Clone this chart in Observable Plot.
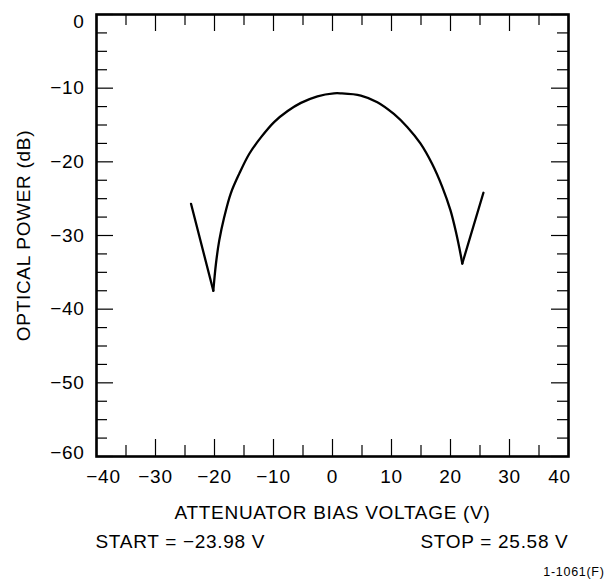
<!DOCTYPE html>
<html>
<head>
<meta charset="utf-8">
<script src="https://cdn.jsdelivr.net/npm/d3@7"></script>
<script src="https://cdn.jsdelivr.net/npm/@observablehq/plot@0.6"></script>
<style>
  html, body { margin: 0; padding: 0; background: #fff; }
</style>
</head>
<body>
<div id="chart"></div>
<script>
// Data
const voltage = [-23.98, -20.2, -19.75, -19.2, -18.35, -17.25, -15.8, -14.1, -12.1, -9.9, -7.6, -5.35, -2.55, 0.25, 1.4, 4.8, 7.6, 10.4, 12.7, 14.9, 16.9, 18.6, 20.0, 21.0, 21.7, 22.0, 25.58];
const power   = [-25.7, -37.5, -33.8, -30.7, -27.5, -24.3, -21.6, -18.9, -16.65, -14.6, -13.1, -12.0, -11.1, -10.7, -10.7, -11.0, -11.9, -13.5, -15.3, -17.5, -20.3, -23.4, -26.6, -29.8, -32.5, -33.8, -24.2];

const xMajorTicks = [-40, -30, -20, -10, 0, 10, 20, 30, 40];
const xMinorTicks = [-35, -25, -15, -5, 5, 15, 25, 35];
const yMajorTicks = [0, -10, -20, -30, -40, -50, -60];
const yMinorTicks = [-2.5, -5, -7.5, -12.5, -15, -17.5, -22.5, -25, -27.5, -32.5, -35, -37.5, -42.5, -45, -47.5, -52.5, -55, -57.5];

const xTitle = "ATTENUATOR BIAS VOLTAGE (V)";
const yTitle = "OPTICAL POWER (dB)";
const startV = -23.98;
const stopV = 25.58;
const figCode = "1-1061(F)";

const minus = d => d < 0 ? "\u2212" + Math.abs(d) : String(d);
const fmtV = v => (v < 0 ? "\u2212" + Math.abs(v).toFixed(2) : v.toFixed(2)) + " V";

// Split the trace at the two nulls so the V tips stay sharp
const pts = voltage.map((v, i) => ({v, p: power[i]}));
let iMinL = 0, iMinR = pts.length - 1;
for (let i = 1; i < pts.length - 1; i++) {
  if (pts[i].p < pts[i - 1].p && pts[i].p < pts[i + 1].p) {
    if (pts[i].v < 0) iMinL = i; else iMinR = i;
  }
}
const leftBranch = pts.slice(0, iMinL + 1);
const arc = pts.slice(iMinL, iMinR + 1);
const rightBranch = pts.slice(iMinR);

const W = 610, H = 584;
const mTop = 14, mBottom = 128, mLeft = 96, mRight = 42;
const frameH = H - mTop - mBottom;
const frameW = W - mLeft - mRight;
const majorLen = 17, minorLen = 11;
const tk = {stroke: "#000", strokeWidth: 1.2};

const xMid = xMajorTicks.slice(1, -1);
const yMid = yMajorTicks.slice(1, -1);

const chart = Plot.plot({
  width: W,
  height: H,
  marginTop: mTop,
  marginBottom: mBottom,
  marginLeft: mLeft,
  marginRight: mRight,
  style: {fontFamily: "'Liberation Sans', Arial, Helvetica, sans-serif", fontSize: "19px", letterSpacing: "0.7px", color: "#000", background: "#fff"},
  x: {domain: [-40, 40]},
  y: {domain: [-60, 0]},
  marks: [
    // inward ticks on all four sides
    Plot.ruleX(xMajorTicks, {x: d => d, insetTop: frameH - majorLen, ...tk}),
    Plot.ruleX(xMinorTicks, {x: d => d, insetTop: frameH - minorLen, ...tk}),
    Plot.ruleX(xMajorTicks, {x: d => d, insetBottom: frameH - majorLen, ...tk}),
    Plot.ruleX(xMinorTicks, {x: d => d, insetBottom: frameH - minorLen, ...tk}),
    Plot.ruleY(yMajorTicks, {y: d => d, insetRight: frameW - majorLen, ...tk}),
    Plot.ruleY(yMinorTicks, {y: d => d, insetRight: frameW - minorLen, ...tk}),
    Plot.ruleY(yMajorTicks, {y: d => d, insetLeft: frameW - majorLen, ...tk}),
    Plot.ruleY(yMinorTicks, {y: d => d, insetLeft: frameW - minorLen, ...tk}),
    Plot.frame({stroke: "#000", strokeWidth: 2.6}),
    // tick labels (end labels nudged inward as in the reference)
    Plot.axisX({anchor: "bottom", ticks: xMid, tickSize: 0, tickPadding: 13, label: null, tickFormat: minus, fontSize: 19}),
    Plot.axisX({anchor: "bottom", ticks: [xMajorTicks[0]], tickSize: 0, tickPadding: 13, label: null, tickFormat: minus, fontSize: 19, dx: 7}),
    Plot.axisX({anchor: "bottom", ticks: [xMajorTicks[xMajorTicks.length - 1]], tickSize: 0, tickPadding: 13, label: null, tickFormat: minus, fontSize: 19, dx: -9}),
    Plot.axisY({anchor: "left", ticks: yMid, tickSize: 0, tickPadding: 12, label: null, tickFormat: minus, fontSize: 19}),
    Plot.axisY({anchor: "left", ticks: [yMajorTicks[0]], tickSize: 0, tickPadding: 12, label: null, tickFormat: minus, fontSize: 19, dy: 7}),
    Plot.axisY({anchor: "left", ticks: [yMajorTicks[yMajorTicks.length - 1]], tickSize: 0, tickPadding: 12, label: null, tickFormat: minus, fontSize: 19, dy: -4}),
    // trace
    Plot.line(leftBranch, {x: "v", y: "p", stroke: "#000", strokeWidth: 2.3, curve: "linear"}),
    Plot.line(arc, {x: "v", y: "p", stroke: "#000", strokeWidth: 2.3, curve: "catmull-rom"}),
    Plot.line(rightBranch, {x: "v", y: "p", stroke: "#000", strokeWidth: 2.3, curve: "linear"}),
    // axis titles and annotations
    Plot.text([xTitle], {frameAnchor: "bottom", textAnchor: "middle", dy: 62, text: d => d, fontSize: 19}),
    Plot.text([yTitle], {frameAnchor: "left", textAnchor: "middle", lineAnchor: "middle", dx: -73, rotate: -90, text: d => d, fontSize: 19}),
    Plot.text(["START = " + fmtV(startV)], {frameAnchor: "bottom-left", textAnchor: "start", dx: -1, dy: 91, text: d => d, fontSize: 19}),
    Plot.text(["STOP = " + fmtV(stopV)], {frameAnchor: "bottom-right", textAnchor: "end", dx: 0, dy: 91, text: d => d, fontSize: 19}),
    Plot.text([figCode], {frameAnchor: "bottom-right", textAnchor: "end", dx: 36, dy: 119, text: d => d, fontSize: 12.5})
  ]
});

document.getElementById("chart").appendChild(chart);
</script>
</body>
</html>
